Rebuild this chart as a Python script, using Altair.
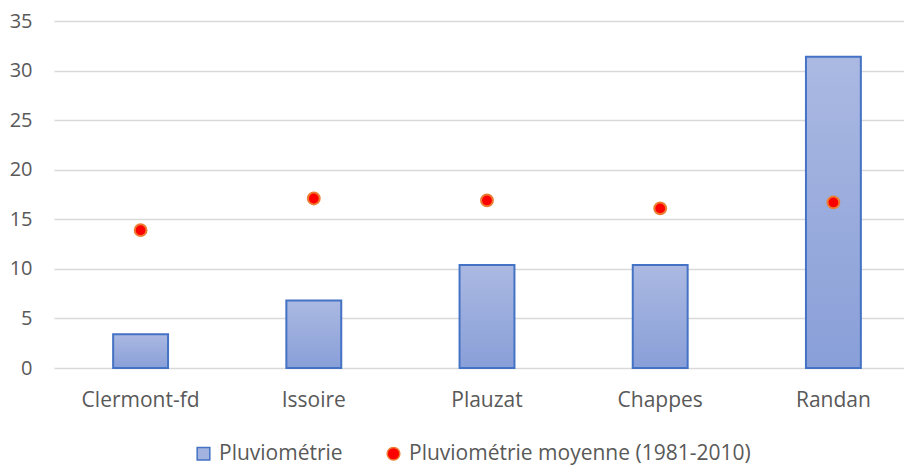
import altair as alt
import pandas as pd

villes = ["Clermont-fd", "Issoire", "Plauzat", "Chappes", "Randan"]
pluvio = [3.4, 6.8, 10.4, 10.4, 31.4]
moyenne = [13.9, 17.1, 16.9, 16.1, 16.7]
series = ["Pluviométrie", "Pluviométrie moyenne (1981-2010)"]

df_bar = pd.DataFrame({"ville": villes, "valeur": pluvio})
df_pt = pd.DataFrame({"ville": villes, "valeur": moyenne, "serie": [series[1]] * len(villes)})

FONT = "Open Sans"
TXT = "#595959"

x_scale = alt.Scale(paddingInner=0.683, paddingOuter=0.3415, range=[0, 866])
x_enc = alt.X(
    "ville:N",
    sort=villes,
    title=None,
    scale=x_scale,
    axis=alt.Axis(labelAngle=0, ticks=False, domain=False, labelPadding=21,
                  labelFontSize=21, labelColor=TXT, labelFont=FONT, grid=False),
)
y_scale = alt.Scale(domain=[0, 35], nice=False)

grad = alt.Gradient(
    gradient="linear",
    stops=[alt.GradientStop(color="#abb9e2", offset=0),
           alt.GradientStop(color="#899fd8", offset=1)],
    x1=0, x2=0, y1=0, y2=1,
)

bars = alt.Chart(df_bar).mark_bar(fill=grad, stroke="#4472c4", strokeWidth=2).encode(
    x=x_enc,
    y=alt.Y("valeur:Q", scale=y_scale, title=None,
            axis=alt.Axis(values=[0, 5, 10, 15, 20, 25, 30, 35], ticks=False, domain=False,
                          labelPadding=22, labelFontSize=20, labelColor=TXT, labelFont=FONT,
                          grid=True, gridColor="#d9d9d9", gridWidth=1.5)),
)

points = alt.Chart(df_pt).mark_point(filled=True, size=140, strokeWidth=2, opacity=1).encode(
    x=alt.X("ville:N", sort=villes, scale=x_scale),
    y=alt.Y("valeur:Q", scale=y_scale),
    fill=alt.Fill("serie:N", scale=alt.Scale(domain=series, range=["#a3b3df", "#ff0000"]),
                  legend=alt.Legend(title=None)),
    stroke=alt.Stroke("serie:N", scale=alt.Scale(domain=series, range=["#4472c4", "#ed7d31"]),
                      legend=alt.Legend(title=None)),
    shape=alt.Shape("serie:N", scale=alt.Scale(domain=series, range=["square", "circle"]),
                    legend=alt.Legend(title=None)),
)

chart = alt.layer(bars, points).properties(
    width=850, height=347,
    autosize=alt.AutoSizeParams(type="none"),
    padding={"left": 46, "top": 13, "right": 0, "bottom": 101},
).configure_view(stroke=None).configure_legend(
    orient="none", legendX=139, legendY=422, direction="horizontal",
    labelFont=FONT, labelFontSize=21, labelColor=TXT, symbolSize=160, labelLimit=0,
    symbolStrokeWidth=1.5, labelOffset=5, columnPadding=40, symbolOpacity=1,
)

chart.save("out.html", embed_options={"renderer": "svg", "actions": False})
